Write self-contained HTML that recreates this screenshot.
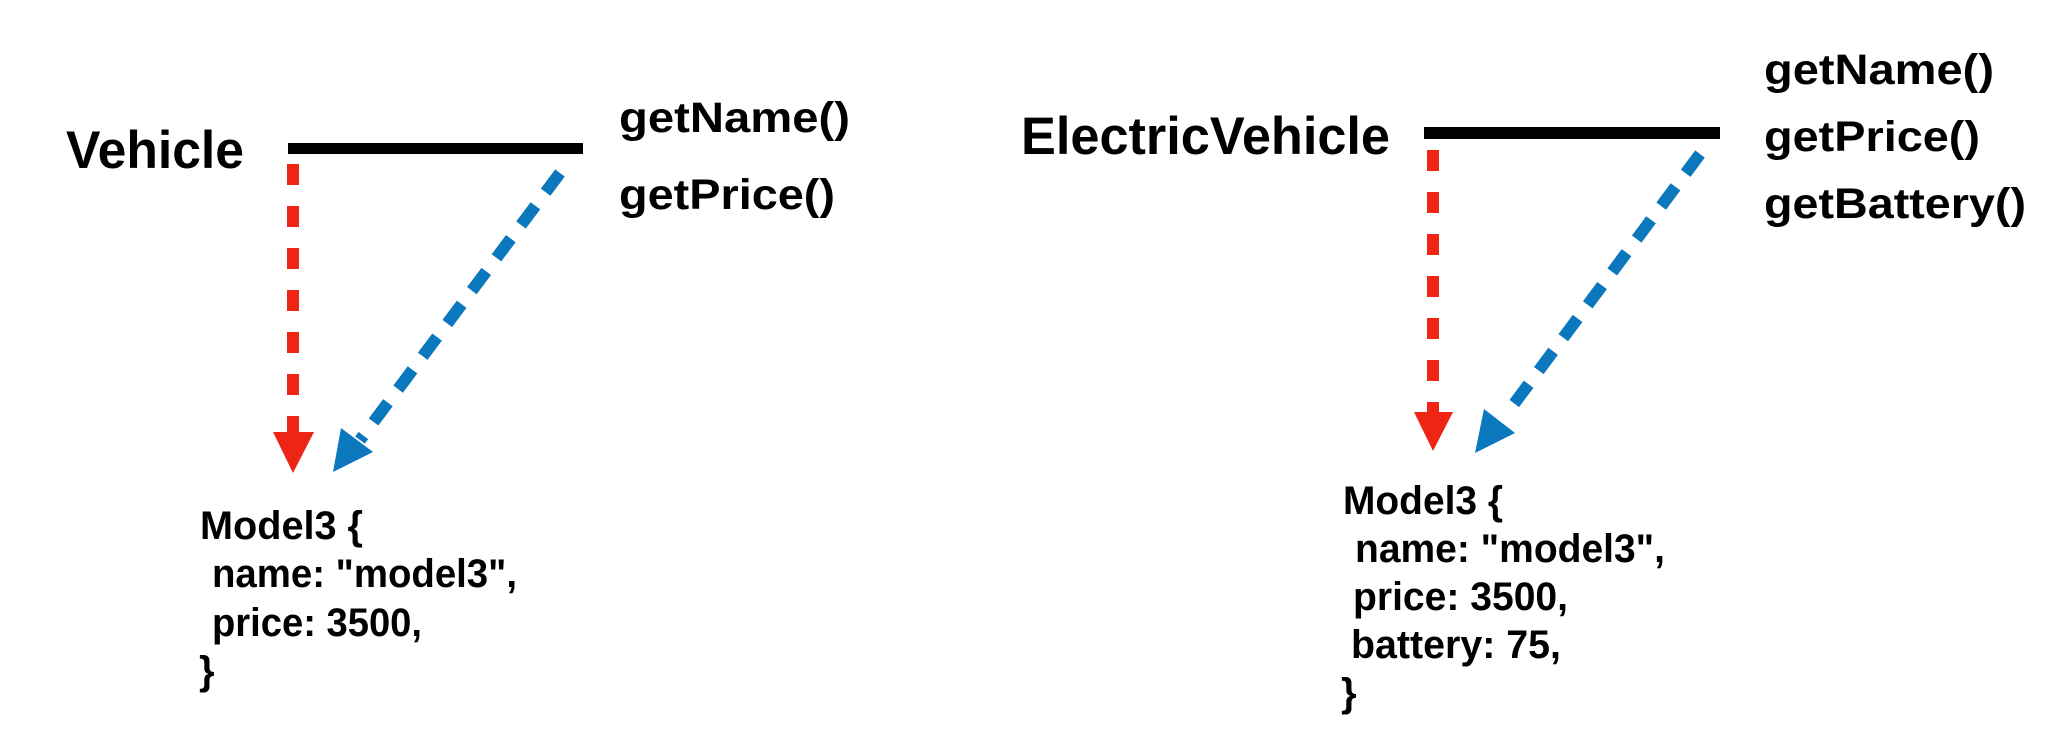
<!DOCTYPE html>
<html><head><meta charset="utf-8"><style>
html,body{margin:0;padding:0;background:#fff;}
svg{display:block}
text{font-family:"Liberation Sans",Arial,sans-serif;font-weight:bold;fill:#000}
</style></head><body>
<svg width="2068" height="752" viewBox="0 0 2068 752" xmlns="http://www.w3.org/2000/svg">
<!-- Left -->
<text x="66" y="168" font-size="53" textLength="178" lengthAdjust="spacingAndGlyphs">Vehicle</text>
<rect x="288" y="143" width="295" height="11" fill="#000"/>
<text x="619" y="132" font-size="43" textLength="231" lengthAdjust="spacingAndGlyphs">getName()</text>
<text x="619" y="209" font-size="43" textLength="216" lengthAdjust="spacingAndGlyphs">getPrice()</text>
<line x1="293" y1="164" x2="293" y2="434" stroke="#ee2414" stroke-width="12" stroke-dasharray="21 21"/>
<polygon points="273,432 314,432 293,473" fill="#ee2414"/>
<line x1="560" y1="173" x2="360" y2="440" stroke="#0b77bd" stroke-width="12" stroke-dasharray="24 17"/>
<polygon points="333,472 341,428 373,452" fill="#0b77bd"/>
<text x="200" y="539" font-size="40" textLength="163" lengthAdjust="spacingAndGlyphs">Model3 {</text>
<text x="212" y="587" font-size="40" textLength="305" lengthAdjust="spacingAndGlyphs">name: "model3",</text>
<text x="212" y="636" font-size="40" textLength="210" lengthAdjust="spacingAndGlyphs">price: 3500,</text>
<text x="199" y="684" font-size="40">}</text>
<!-- Right -->
<text x="1021" y="154" font-size="53" textLength="369" lengthAdjust="spacingAndGlyphs">ElectricVehicle</text>
<rect x="1424" y="127" width="296" height="12" fill="#000"/>
<text x="1764" y="84" font-size="43" textLength="230" lengthAdjust="spacingAndGlyphs">getName()</text>
<text x="1764" y="151" font-size="43" textLength="216" lengthAdjust="spacingAndGlyphs">getPrice()</text>
<text x="1764" y="218" font-size="43" textLength="262" lengthAdjust="spacingAndGlyphs">getBattery()</text>
<line x1="1433" y1="150" x2="1433" y2="414" stroke="#ee2414" stroke-width="12" stroke-dasharray="21 21"/>
<polygon points="1414,412 1453,412 1433,451" fill="#ee2414"/>
<line x1="1700" y1="154" x2="1505" y2="416" stroke="#0b77bd" stroke-width="12" stroke-dasharray="24 17"/>
<polygon points="1475,453 1484,409 1515,433" fill="#0b77bd"/>
<text x="1343" y="514" font-size="40" textLength="160" lengthAdjust="spacingAndGlyphs">Model3 {</text>
<text x="1355" y="562" font-size="40" textLength="310" lengthAdjust="spacingAndGlyphs">name: "model3",</text>
<text x="1353" y="610" font-size="40" textLength="215" lengthAdjust="spacingAndGlyphs">price: 3500,</text>
<text x="1351" y="658" font-size="40" textLength="210" lengthAdjust="spacingAndGlyphs">battery: 75,</text>
<text x="1341" y="706" font-size="40">}</text>
</svg>
</body></html>
